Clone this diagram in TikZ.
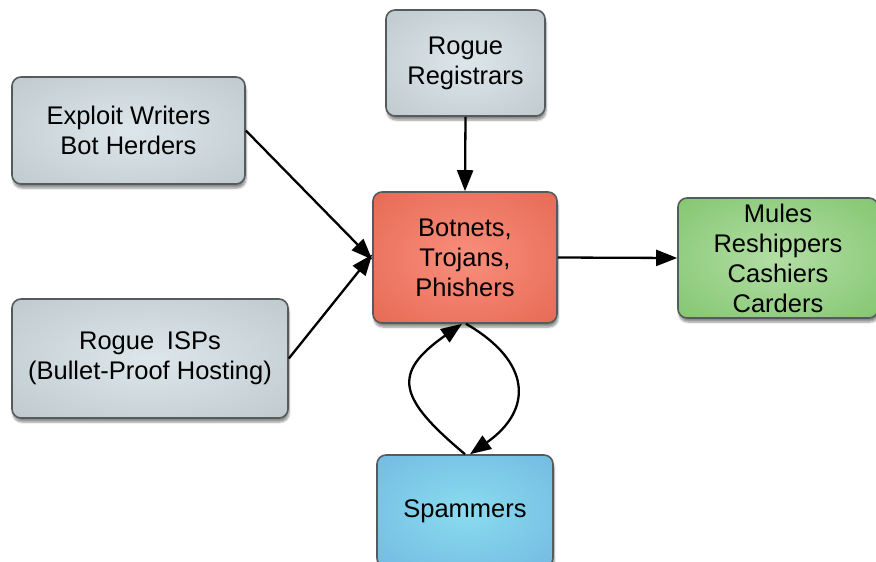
\documentclass[tikz,border=0pt]{standalone}
\usepackage{fontspec}
\setmainfont{Liberation Sans}
\usetikzlibrary{arrows.meta,shadows.blur}
\definecolor{grayin}{HTML}{DDE7EB}
\definecolor{grayout}{HTML}{B2BDC1}
\definecolor{redin}{HTML}{F98E7C}
\definecolor{redout}{HTML}{DD5A43}
\definecolor{greenin}{HTML}{B3DEA5}
\definecolor{greenout}{HTML}{6EBB59}
\definecolor{bluein}{HTML}{89DCF0}
\definecolor{blueout}{HTML}{6AABDB}
\definecolor{edgegray}{HTML}{555A5C}
\pgfdeclareradialshading{graysh}{\pgfpointorigin}{color(0bp)=(grayin); color(52bp)=(grayout); color(80bp)=(grayout)}
\pgfdeclareradialshading{redsh}{\pgfpointorigin}{color(0bp)=(redin); color(52bp)=(redout); color(80bp)=(redout)}
\pgfdeclareradialshading{greensh}{\pgfpointorigin}{color(0bp)=(greenin); color(52bp)=(greenout); color(80bp)=(greenout)}
\pgfdeclareradialshading{bluesh}{\pgfpointorigin}{color(0bp)=(bluein); color(52bp)=(blueout); color(80bp)=(blueout)}
\tikzset{
  box/.style={draw=edgegray, line width=1.6pt, rounded corners=9pt, align=center,
    font=\fontsize{25.5}{30}\selectfont, inner sep=0pt,
    blur shadow={shadow xshift=1pt, shadow yshift=-4pt, shadow blur steps=6, shadow opacity=45}},
  graybox/.style={box, shading=graysh},
  redbox/.style={box, shading=redsh},
  greenbox/.style={box, shading=greensh},
  bluebox/.style={box, shading=bluesh},
  conn/.style={line width=2.3pt, -{Triangle[length=21pt,width=16pt]}}
}
\begin{document}
\begin{tikzpicture}[x=1pt,y=-1pt]
\useasboundingbox (0,0) rectangle (876,562);
\node[graybox, minimum width=159pt, minimum height=106pt] (reg) at (465.5,63) {Rogue\\Registrars};
\node[graybox, minimum width=233pt, minimum height=107pt] (exp) at (128.5,130.5) {Exploit Writers\\Bot Herders};
\node[redbox, minimum width=184pt, minimum height=131pt] (bot) at (465,257.5) {Botnets,\\Trojans,\\Phishers};
\node[greenbox, minimum width=200pt, minimum height=120pt] (mul) at (778,258) {Mules\\Reshippers\\Cashiers\\Carders};
\node[graybox, minimum width=276pt, minimum height=119pt] (isp) at (150,358.5) {Rogue\enspace ISPs\\(Bullet-Proof Hosting)};
\node[bluebox, minimum width=176pt, minimum height=112pt] (spa) at (465,511) {Spammers};
\draw[conn] (reg.south) -- (bot.north);
\draw[conn] (exp.east) -- ([yshift=-2pt]bot.west);
\draw[conn] (isp.east) -- ([yshift=3pt]bot.west);
\draw[conn] (bot.east) -- (mul.west);
\draw[conn] (spa.north) to[out=140,in=-145, looseness=1.7] ([xshift=-3pt]bot.south);
\draw[conn] ([xshift=1pt]bot.south) to[out=-30,in=35, looseness=1.5] ([xshift=5pt]spa.north);
\end{tikzpicture}
\end{document}
